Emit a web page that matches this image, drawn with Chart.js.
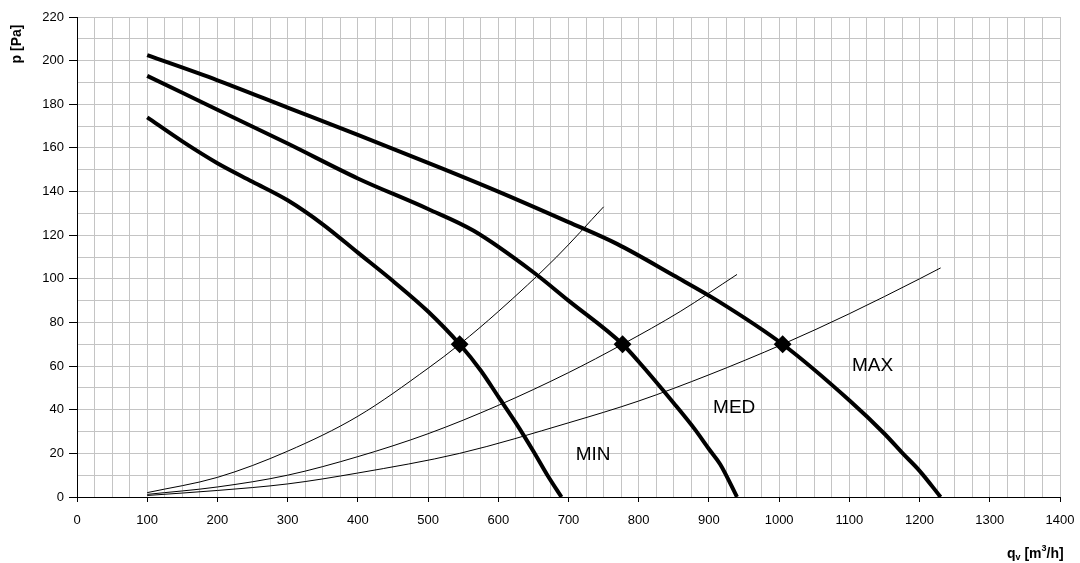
<!DOCTYPE html>
<html>
<head>
<meta charset="utf-8">
<script src="https://cdn.jsdelivr.net/npm/chart.js@4"></script>
<style>
  body { margin: 0; background: #fff; }
  #wrap { width: 1080px; height: 563px; }
</style>
</head>
<body>
<div id="wrap"><canvas id="myChart"></canvas></div>
<script>
// fan curves (qv in m3/h, p in Pa)
const minQ = [100, 150, 200, 250, 300, 350, 400, 450, 500, 545, 575, 600, 625, 650, 670, 690];
const minP = [174, 163, 153, 144.5, 136, 125, 112, 99, 85, 70, 58, 46, 34, 21, 10, 0];
const medQ = [100, 200, 300, 400, 500, 565, 650, 700, 777, 800, 850, 880, 900, 916, 940];
const medP = [193, 177.5, 162, 146, 132, 122, 103, 90, 70, 62, 43, 31, 22, 15, 0];
const maxQ = [100, 200, 300, 400, 517, 600, 700, 769, 850, 912, 1005, 1101, 1150, 1176, 1200, 1230];
const maxP = [202.5, 191, 178.5, 166, 151, 140, 126, 116, 101.5, 90, 70, 44, 29, 20, 12, 0];

// system curves
const sys1Q = [100, 200, 300, 400, 500, 545, 600, 683, 750];
const sys1P = [2, 9, 21, 37, 59, 70, 85, 110, 133];
const sys2Q = [100, 200, 300, 400, 500, 600, 700, 777, 859, 940];
const sys2P = [1.2, 4.6, 10, 18.5, 29, 42, 57, 70, 85, 102];
const sys3Q = [100, 200, 300, 400, 545, 700, 800, 900, 1005, 1100, 1200, 1230];
const sys3P = [0.7, 3, 6, 11, 20, 34, 44, 56, 70, 84, 100, 105];

// working points
const workQ = [545, 777, 1005];
const workP = [70, 70, 70];

// curve labels
const labelText = ['MIN', 'MED', 'MAX'];
const labelQ = [735, 936, 1133];
const labelP = [19.5, 41, 60];

const xTicks = { min: 0, max: 1400, step: 25, major: 100 };
const yTicks = { min: 0, max: 220, step: 10, major: 20 };

const FONT = "Arial, 'Liberation Sans', sans-serif";

function pts(q, p) {
    return q.map(function (v, i) { return { x: v, y: p[i] }; });
}

function curve(q, p, w) {
    return {
        data: pts(q, p),
        showLine: true,
        borderColor: '#000',
        borderWidth: w,
        pointRadius: 0,
        cubicInterpolationMode: 'monotone',
        fill: false
    };
}

const textPlugin = {
    id: 'texts',
    afterDraw: function (chart) {
        const c = chart.ctx;
        const xs = chart.scales.x, ys = chart.scales.y;
        c.save();
        c.fillStyle = '#000';
        c.font = '19px ' + FONT;
        c.textAlign = 'center';
        c.textBaseline = 'middle';
        for (let i = 0; i < labelText.length; i++) {
            c.fillText(labelText[i], xs.getPixelForValue(labelQ[i]), ys.getPixelForValue(labelP[i]));
        }

        // y axis title
        c.save();
        c.translate(17, 44);
        c.rotate(-Math.PI / 2);
        c.font = 'bold 14px ' + FONT;
        c.fillText('p [Pa]', 0, 0);
        c.restore();

        // x axis title q_v [m^3/h]
        c.textAlign = 'left';
        c.textBaseline = 'alphabetic';
        let x = 1007, y = 558;
        const parts = [
            ['q', 'bold 14px ', 0],
            ['v', 'bold 9px ', 2],
            [' [m', 'bold 14px ', 0],
            ['3', 'bold 9px ', -7],
            ['/h]', 'bold 14px ', 0]
        ];
        parts.forEach(function (p) {
            c.font = p[1] + FONT;
            c.fillText(p[0], x, y + p[2]);
            x += c.measureText(p[0]).width;
        });
        c.restore();
    }
};

var ctx = document.getElementById('myChart').getContext('2d');

var myChart = new Chart(ctx, {
    type: 'scatter',
    data: {
        datasets: [
            curve(sys1Q, sys1P, 1),
            curve(sys2Q, sys2P, 1),
            curve(sys3Q, sys3P, 1),
            curve(minQ, minP, 4),
            curve(medQ, medP, 4),
            curve(maxQ, maxP, 4),
            {
                data: pts(workQ, workP),
                showLine: false,
                pointStyle: 'rectRot',
                pointRadius: 7.5,
                backgroundColor: '#000',
                borderColor: '#000',
                borderWidth: 2
            }
        ]
    },
    options: {
        responsive: true,
        maintainAspectRatio: false,
        animation: false,
        layout: { padding: { left: 0, top: 17, right: 20, bottom: 0 } },
        plugins: {
            legend: { display: false },
            tooltip: { enabled: false }
        },
        scales: {
            x: {
                type: 'linear',
                min: xTicks.min,
                max: xTicks.max,
                afterFit: function (s) {
                    s.height = 66;
                    s.paddingLeft = 0;
                    s.paddingRight = 0;
                },
                border: { color: '#000', width: 1 },
                grid: {
                    color: '#c4c4c4',
                    lineWidth: 1,
                    tickLength: 5,
                    tickColor: function (c) {
                        return c.tick && c.tick.value % xTicks.major === 0 ? '#000' : 'rgba(0,0,0,0)';
                    }
                },
                ticks: {
                    stepSize: xTicks.step,
                    autoSkip: false,
                    maxRotation: 0,
                    color: '#000',
                    padding: 11,
                    font: { family: FONT, size: 13 },
                    callback: function (v) { return v % xTicks.major === 0 ? v : ''; }
                }
            },
            y: {
                min: yTicks.min,
                max: yTicks.max,
                afterFit: function (s) { s.width = 77; },
                border: { color: '#000', width: 1 },
                grid: {
                    color: '#c4c4c4',
                    lineWidth: 1,
                    tickLength: 8,
                    tickColor: function (c) {
                        return c.tick && c.tick.value % yTicks.major === 0 ? '#000' : 'rgba(0,0,0,0)';
                    }
                },
                ticks: {
                    stepSize: yTicks.step,
                    autoSkip: false,
                    color: '#000',
                    padding: 5,
                    font: { family: FONT, size: 13 },
                    callback: function (v) { return v % yTicks.major === 0 ? v : ''; }
                }
            }
        }
    },
    plugins: [textPlugin]
});
</script>
</body>
</html>
